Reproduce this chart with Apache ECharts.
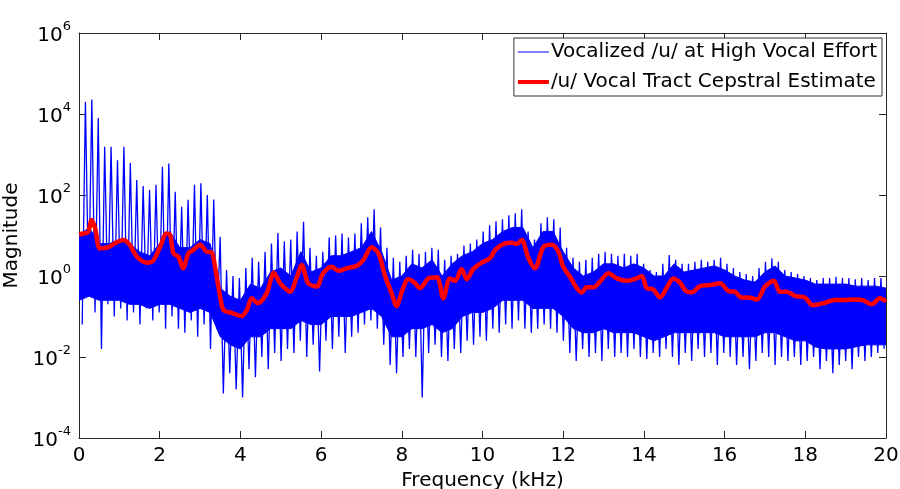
<!DOCTYPE html>
<html>
<head>
<meta charset="utf-8">
<script src="https://cdn.jsdelivr.net/npm/echarts@6/dist/echarts.min.js"></script>
<style>
html,body{margin:0;padding:0;background:#fff;}
#chart{width:900px;height:489px;}
</style>
</head>
<body>
<div id="chart"></div>
<script>
// ---------- data ----------
// axis tick labels
const xTicks = [0, 2, 4, 6, 8, 10, 12, 14, 16, 18, 20];
const yTickExps = [-4, -2, 0, 2, 4, 6];

// harmonic spacing of the voiced spectrum (kHz), read from spike positions
const F0 = 0.159;

// log10 magnitude of each harmonic peak (harmonic 1..125)
const peakExp = [
  4.30, 4.36, 3.90, 3.19, 3.19, 2.86, 3.19, 2.79, 2.37, 2.22,
  2.12, 2.25, 2.70, 2.78, 2.08, 1.71, 1.88, 2.25, 2.29, 2.00,
  1.89, 0.97, 0.15, 0.00, -0.05, 0.20, 0.45, 0.35, 0.60, 0.80,
  1.06, 0.85, 0.90, 1.10, 1.34, 0.70, 0.50, 0.60, 0.95, 1.00,
  1.05, 0.95, 1.05, 1.30, 1.45, 1.65, 1.20, 0.70, 0.45, 0.35,
  0.50, 0.65, 0.55, 0.60, 0.70, 0.65, 0.40, 0.50, 0.55, 0.75,
  0.80, 0.90, 1.10, 1.25, 1.35, 1.40, 1.50, 1.55, 1.65, 1.10,
  0.90, 1.30, 1.45, 1.40, 1.20, 0.70, 0.45, 0.35, 0.40, 0.45,
  0.55, 0.60, 0.55, 0.50, 0.55, 0.50, 0.55, 0.30, 0.15, 0.10,
  0.30, 0.52, 0.40, 0.30, 0.30, 0.35, 0.40, 0.35, 0.40, 0.45,
  0.30, 0.20, 0.10, 0.05, 0.00, 0.20, 0.35, 0.44, 0.35, 0.15,
  0.10, 0.05, 0.00, -0.05, -0.10, -0.05, -0.05, -0.02, -0.05, -0.05,
  -0.08, -0.05, -0.10, -0.05, -0.05
];

// log10 magnitude of the deepest dip between consecutive harmonics (gap 0..125)
const troughExp = [
  -1.2, -0.5, -0.9, -1.8, -0.7, -1.0, -0.8, -1.1, -0.9, -1.2,
  -0.8, -1.1, -0.9, -1.3, -1.0, -1.3, -1.4, -1.1, -1.5, -1.2,
  -1.8, -1.3, -2.9, -2.4, -2.8, -3.0, -2.3, -2.5, -2.0, -2.3,
  -1.9, -2.1, -1.8, -1.9, -1.6, -2.0, -1.7, -2.36, -1.6, -1.8,
  -1.5, -1.9, -1.5, -1.4, -1.2, -1.1, -1.3, -1.7, -2.2, -2.4,
  -2.0, -1.8, -2.0, -3.0, -1.9, -1.7, -2.0, -2.1, -1.8, -1.9,
  -1.6, -1.7, -1.5, -1.6, -1.3, -1.4, -1.2, -1.3, -1.1, -1.3,
  -1.4, -1.3, -1.2, -1.3, -1.4, -1.6, -1.9, -2.1, -1.8, -2.0,
  -1.9, -2.1, -1.8, -2.0, -1.9, -2.0, -1.8, -2.0, -2.05, -1.9,
  -2.0, -1.8, -2.0, -2.2, -1.9, -2.1, -1.8, -2.0, -1.9, -2.2,
  -1.9, -2.0, -2.2, -2.0, -2.3, -2.1, -1.9, -2.0, -2.2, -2.0,
  -2.1, -2.0, -2.2, -2.1, -2.0, -2.3, -2.1, -2.4, -2.2, -2.1,
  -2.3, -2.0, -2.1, -2.0, -1.9, -1.8
];

// dense (solid) part of the blue spectrum, every 0.25 kHz: top and bottom (log10)
const bandFreq = [
  0, 0.25, 0.5, 0.75, 1, 1.25, 1.5, 1.75, 2, 2.25, 2.5, 2.75, 3, 3.25, 3.5, 3.75, 4, 4.25, 4.5, 4.75,
  5, 5.25, 5.5, 5.75, 6, 6.25, 6.5, 6.75, 7, 7.25, 7.5, 7.75, 8, 8.25, 8.5, 8.75, 9, 9.25, 9.5, 9.75,
  10, 10.25, 10.5, 10.75, 11, 11.25, 11.5, 11.75, 12, 12.25, 12.5, 12.75, 13, 13.25, 13.5, 13.75, 14, 14.25, 14.5, 14.75,
  15, 15.25, 15.5, 15.75, 16, 16.25, 16.5, 16.75, 17, 17.25, 17.5, 17.75, 18, 18.25, 18.5, 18.75, 19, 19.25, 19.5, 19.75, 20];
const bandTopExp = [
  1.0, 1.2, 0.8, 0.8, 0.9, 0.8, 0.6, 0.5, 0.8, 1.1, 0.7, 0.7, 0.9, 0.8, -0.3, -0.5, -0.6, -0.2, -0.3, 0.1,
  0.2, 0.0, 0.6, 0.1, 0.2, 0.5, 0.5, 0.6, 0.7, 1.1, 0.6, -0.1, 0.0, 0.3, 0.2, 0.4, 0.0, 0.3, 0.5, 0.6,
  0.8, 0.9, 1.1, 1.2, 1.2, 0.7, 1.1, 1.1, 0.6, 0.2, 0.0, 0.1, 0.3, 0.3, 0.2, 0.3, 0.2, 0.0, 0.0, 0.3,
  0.1, 0.15, 0.2, 0.25, 0.15, 0.0, -0.1, -0.15, 0.1, 0.25, 0.0, -0.05, -0.1, -0.2, -0.2, -0.2, -0.2, -0.25, -0.25, -0.25, -0.3];
const bandBottomExp = [
  -0.6, -0.5, -0.6, -0.6, -0.6, -0.7, -0.7, -0.8, -0.7, -0.7, -0.8, -0.9, -0.8, -0.9, -1.5, -1.7, -1.8, -1.5, -1.5, -1.3,
  -1.3, -1.3, -1.1, -1.2, -1.2, -1.0, -1.0, -1.0, -0.9, -0.8, -1.0, -1.5, -1.5, -1.3, -1.3, -1.2, -1.4, -1.3, -1.0, -0.9,
  -0.9, -0.8, -0.6, -0.6, -0.6, -0.8, -0.8, -0.8, -1.0, -1.3, -1.4, -1.4, -1.3, -1.4, -1.4, -1.4, -1.5, -1.6, -1.5, -1.4,
  -1.4, -1.4, -1.4, -1.4, -1.5, -1.5, -1.5, -1.5, -1.4, -1.4, -1.5, -1.6, -1.6, -1.75, -1.8, -1.8, -1.8, -1.75, -1.7, -1.7, -1.7];

// cepstral vocal-tract estimate (red): frequency (kHz) and log10 magnitude
const redFreq = [0.0, 0.12, 0.23, 0.31, 0.40, 0.52, 0.73, 0.89, 1.10, 1.26, 1.43, 1.68, 1.84, 2.01, 2.17, 2.26, 2.34, 2.46, 2.58, 2.71,
  2.83, 3.00, 3.16, 3.29, 3.37, 3.47, 3.58, 3.78, 4.03, 4.16, 4.28, 4.43, 4.65, 4.83, 4.96, 5.06, 5.23, 5.40, 5.52, 5.68,
  5.89, 6.05, 6.26, 6.43, 6.63, 6.88, 7.05, 7.25, 7.42, 7.58, 7.75, 7.87, 8.00, 8.16, 8.29, 8.45, 8.66, 8.87, 9.03, 9.19,
  9.32, 9.48, 9.61, 9.77, 9.98, 10.19, 10.31, 10.52, 10.72, 10.85, 10.97, 11.14, 11.30, 11.51, 11.72, 11.88, 12.00, 12.17, 12.33, 12.46,
  12.58, 12.75, 12.91, 13.12, 13.33, 13.57, 13.82, 13.95, 14.07, 14.23, 14.40, 14.56, 14.73, 14.91, 15.02, 15.18, 15.39, 15.64, 15.89, 16.09,
  16.26, 16.42, 16.59, 16.80, 17.00, 17.22, 17.37, 17.54, 17.74, 17.99, 18.18, 18.45, 18.74, 18.94, 19.19, 19.40, 19.65, 19.85, 20.0];
const redExp = [1.03, 1.05, 1.09, 1.38, 1.18, 0.68, 0.71, 0.81, 0.89, 0.77, 0.48, 0.33, 0.38, 0.72, 1.05, 1.01, 0.56, 0.48, 0.19, 0.56,
  0.64, 0.77, 0.60, 0.58, 0.23, -0.35, -0.84, -0.91, -0.99, -0.84, -0.55, -0.67, -0.43, 0.08, -0.14, -0.26, -0.39, -0.02, 0.27, -0.18,
  -0.26, 0.07, 0.23, 0.13, 0.19, 0.25, 0.40, 0.71, 0.56, 0.02, -0.43, -0.74, -0.39, -0.08, -0.14, -0.30, -0.06, -0.03, -0.55, -0.06,
  -0.12, 0.17, -0.08, 0.17, 0.33, 0.44, 0.64, 0.79, 0.82, 0.79, 0.89, 0.44, 0.19, 0.72, 0.77, 0.60, 0.23, -0.02, -0.29, -0.41,
  -0.28, -0.28, -0.14, 0.07, -0.06, -0.12, -0.06, 0.00, -0.30, -0.33, -0.53, -0.30, -0.06, -0.18, -0.35, -0.41, -0.25, -0.22, -0.18, -0.37,
  -0.39, -0.53, -0.53, -0.58, -0.26, -0.12, -0.39, -0.39, -0.49, -0.53, -0.72, -0.67, -0.59, -0.59, -0.58, -0.59, -0.70, -0.55, -0.63];

const seriesNames = ['Vocalized /u/ at High Vocal Effort', '/u/ Vocal Tract Cepstral Estimate'];

// ---------- build series data ----------
const pw = e => Math.pow(10, e);
const blueData = [];
for (let j = 0; j < troughExp.length; j++) {
  blueData.push([(j + 0.5) * F0, pw(troughExp[j])]);
  if (j < peakExp.length) blueData.push([(j + 1) * F0, pw(peakExp[j])]);
}
const redData = redFreq.map((f, i) => [f, pw(redExp[i])]);

const FONT = '"DejaVu Sans", sans-serif';
const AX = '#262626';
const BLUE = '#0000ff';
const RED = '#ff0000';

const chart = echarts.init(document.getElementById('chart'), null, {renderer: 'canvas'});

chart.setOption({
  animation: false,
  backgroundColor: '#fff',
  grid: {left: 79, right: 14, top: 33, bottom: 51, containLabel: false, outerBoundsMode: 'none'},
  legend: {
    data: [
      {name: seriesNames[0], icon: 'path://M0,0H31V1H0Z'},
      {name: seriesNames[1], icon: 'path://M0,0H31V4H0Z'}
    ],
    symbolKeepAspect: true,
    orient: 'vertical',
    right: 18,
    top: 38,
    backgroundColor: '#fff',
    borderColor: '#333',
    borderWidth: 1,
    borderRadius: 0,
    padding: [4, 5, 4, 4],
    itemGap: 10,
    itemWidth: 31,
    itemHeight: 20,
    textStyle: {fontSize: 20, fontFamily: FONT, color: '#000', padding: [0, 0, 0, -3]}
  },
  xAxis: [{
    type: 'value', position: 'bottom', min: 0, max: 20, interval: 2,
    name: 'Frequency (kHz)', nameLocation: 'middle', nameGap: 31,
    nameTextStyle: {fontSize: 20, fontFamily: FONT, color: '#000'},
    axisLine: {show: true, onZero: false, lineStyle: {color: AX, width: 1}},
    axisTick: {show: true, inside: true, length: 7, lineStyle: {color: AX}},
    axisLabel: {fontSize: 20, fontFamily: FONT, color: '#000', margin: 8,
      formatter: v => xTicks.indexOf(v) >= 0 ? String(v) : ''},
    splitLine: {show: false}
  }, {
    type: 'value', position: 'top', min: 0, max: 20, interval: 2,
    axisLine: {show: true, onZero: false, lineStyle: {color: AX, width: 1}},
    axisTick: {show: true, inside: true, length: 7, lineStyle: {color: AX}},
    axisLabel: {show: false}, splitLine: {show: false}
  }],
  yAxis: [{
    type: 'log', logBase: 10, min: pw(yTickExps[0]), max: pw(yTickExps[yTickExps.length - 1]), interval: 2,
    position: 'left',
    name: 'Magnitude', nameLocation: 'middle', nameGap: 49, nameRotate: 90,
    nameTextStyle: {fontSize: 20, fontFamily: FONT, color: '#000'},
    axisLine: {show: true, onZero: false, lineStyle: {color: AX, width: 1}},
    axisTick: {show: true, inside: true, length: 7, lineStyle: {color: AX}},
    axisLabel: {
      show: true,
      margin: 8,
      formatter: v => '{b|10}{e|' + Math.round(Math.log10(v)) + '}',
      rich: {
        b: {fontSize: 20, fontFamily: FONT, color: '#000', verticalAlign: 'bottom'},
        e: {fontSize: 13, fontFamily: FONT, color: '#000', verticalAlign: 'bottom', padding: [0, 0, 13, 0]}
      }
    },
    splitLine: {show: false}
  }, {
    type: 'log', logBase: 10, min: pw(yTickExps[0]), max: pw(yTickExps[yTickExps.length - 1]), interval: 2,
    position: 'right',
    axisLine: {show: true, onZero: false, lineStyle: {color: AX, width: 1}},
    axisTick: {show: true, inside: true, length: 7, lineStyle: {color: AX}},
    axisLabel: {show: false}, splitLine: {show: false}
  }],
  series: [
    {
      name: 'band',
      type: 'custom',
      xAxisIndex: 0, yAxisIndex: 0,
      clip: true,
      silent: true,
      data: [[bandFreq[0], pw(bandTopExp[0])]],
      renderItem: function (params, api) {
        const pts = [];
        for (let i = 0; i < bandFreq.length; i++) pts.push(api.coord([bandFreq[i], pw(bandTopExp[i])]));
        for (let i = bandFreq.length - 1; i >= 0; i--) pts.push(api.coord([bandFreq[i], pw(bandBottomExp[i])]));
        return {type: 'polygon', shape: {points: pts}, style: {fill: BLUE, stroke: BLUE, lineWidth: 1}};
      },
      z: 2
    },
    {
      name: seriesNames[0],
      type: 'line',
      xAxisIndex: 0, yAxisIndex: 0,
      data: blueData,
      symbol: 'none',
      lineStyle: {color: BLUE, width: 1.3},
      itemStyle: {color: BLUE},
      clip: true,
      z: 3
    },
    {
      name: seriesNames[1],
      type: 'line',
      xAxisIndex: 0, yAxisIndex: 0,
      data: redData,
      symbol: 'none',
      smooth: 0.3,
      lineStyle: {color: RED, width: 4.5},
      itemStyle: {color: RED},
      clip: true,
      z: 4
    }
  ]
});
</script>
</body>
</html>
